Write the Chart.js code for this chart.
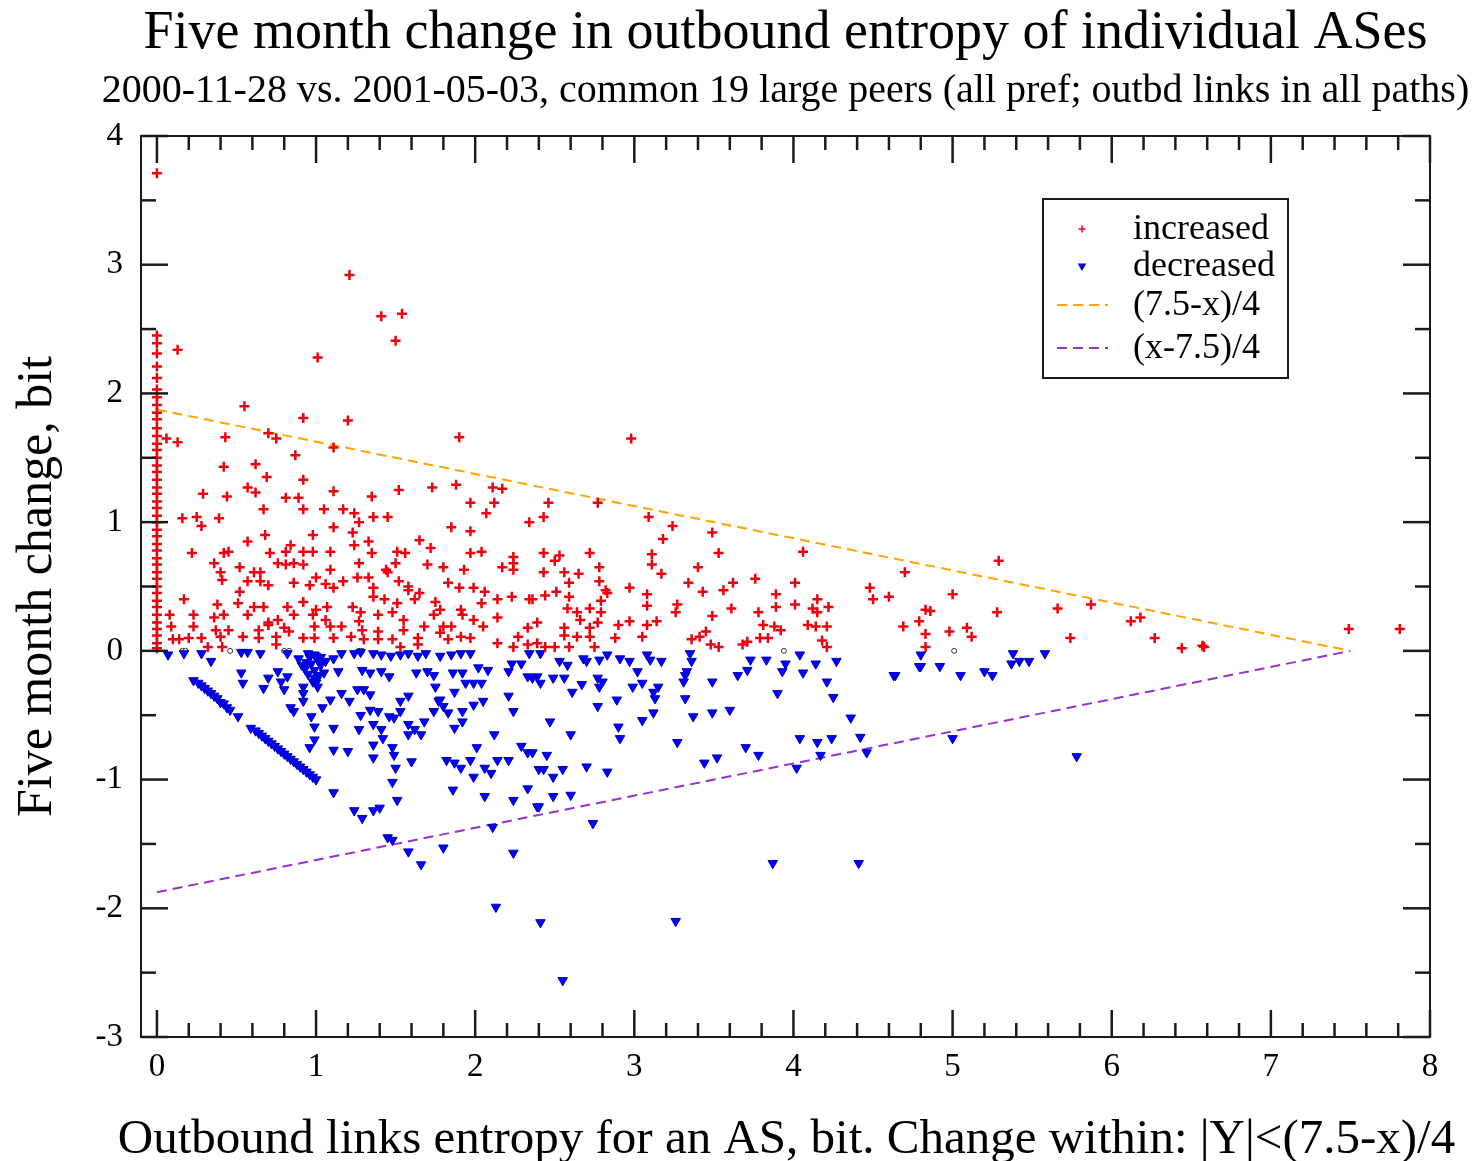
<!DOCTYPE html>
<html>
<head>
<meta charset="utf-8">
<script src="https://cdn.jsdelivr.net/npm/chart.js@4.4.1/dist/chart.umd.min.js"></script>
<style>
  html, body { margin: 0; padding: 0; background: #fff; }
  #wrap { width: 1479px; height: 1161px; }
</style>
</head>
<body>
<div id="wrap"><canvas id="c"></canvas></div>
<script>
const titleText = "Five month change in outbound entropy of individual ASes";
const subtitleText = "2000-11-28 vs. 2001-05-03, common 19 large peers (all pref; outbd links in all paths)";
const xTitle = "Outbound links entropy for an AS, bit. Change within: |Y|<(7.5-x)/4";
const yTitle = "Five month change, bit";

const xTicks = [0, 1, 2, 3, 4, 5, 6, 7, 8];
const yTicks = [-3, -2, -1, 0, 1, 2, 3, 4];

// bounding lines y = (7.5-x)/4 and y = (x-7.5)/4
const boundX = [0, 7.5];
const upperY = [1.875, 0];
const lowerY = [-1.875, 0];

const increased = [
  [0,3.71],[0,2.45],[0,2.39],[0,2.31],[0,2.21],[0,2.12],[0,2.03],[0,1.97],[0,1.91],[0,1.85],[0,1.80],[0,1.73],
  [0,1.67],[0,1.61],[0,1.56],[0,1.50],[0,1.44],[0,1.39],[0,1.33],[0,1.27],[0,1.22],[0,1.16],[0,1.11],[0,1.05],
  [0,1.00],[0,0.94],[0,0.89],[0,0.83],[0,0.78],[0,0.72],[0,0.67],[0,0.61],[0,0.56],[0,0.50],[0,0.45],[0,0.39],
  [0,0.34],[0,0.28],[0,0.22],[0,0.17],[0,0.12],[0,0.06],[0,0.02],
  [0.13,2.34],[1.21,2.92],[1.41,2.60],[1.54,2.62],[1.50,2.41],[1.01,2.28],[2.98,1.65],
  [0.55,1.90],[0.92,1.81],[1.20,1.79],[1.90,1.66],[0.06,1.65],[0.13,1.62],[0.43,1.66],[0.70,1.69],[0.75,1.65],
  [1.11,1.58],[0.87,1.52],[0.42,1.43],[0.62,1.45],[0.69,1.35],[0.92,1.33],[0.29,1.22],[0.44,1.20],[0.57,1.27],
  [0.62,1.23],[0.81,1.19],[0.89,1.19],[0.92,1.10],[1.11,1.24],[1.35,1.20],[1.52,1.25],[1.73,1.27],[1.88,1.29],
  [2.11,1.27],[2.17,1.26],[0.67,1.10],[0.16,1.03],[0.25,1.04],[0.28,0.97],[0.39,1.03],[1.05,1.10],[1.17,1.10],
  [1.24,1.07],[1.36,1.04],[1.45,1.04],[1.27,1.00],[1.11,0.96],[1.23,0.92],[1.85,0.96],[1.97,0.93],[2.34,1.00],
  [2.07,1.07],[1.97,1.15],[2.12,1.15],[0.68,0.90],[0.57,0.85],[0.22,0.76],[0.42,0.76],[0.45,0.77],[0.71,0.76],
  [0.84,0.82],[0.81,0.77],[0.92,0.77],[0.98,0.77],[1.09,0.77],[0.98,0.90],[1.33,0.85],[1.24,0.82],[1.35,0.76],
  [1.51,0.77],[1.56,0.76],[1.65,0.86],[1.72,0.80],[1.97,0.76],[2.04,0.77],[2.24,0.73],[2.24,0.68],[2.24,0.63],
  [0.36,0.68],[0.52,0.65],[0.76,0.68],[0.81,0.67],[0.86,0.68],[0.92,0.67],[1.09,0.63],[1.27,0.68],[1.44,0.63],
  [1.50,0.68],[1.70,0.67],[1.80,0.65],[1.93,0.63],[2.17,0.65],[0.40,0.61],[0.41,0.55],[0.61,0.61],[0.65,0.61],
  [0.57,0.54],[0.65,0.54],[0.70,0.51],[0.86,0.53],[0.96,0.51],[1.00,0.57],[1.06,0.52],[1.11,0.49],[1.17,0.54],
  [1.26,0.57],[1.33,0.57],[1.36,0.49],[1.45,0.61],[1.52,0.54],[1.58,0.50],[1.65,0.45],[1.83,0.53],[1.90,0.49],
  [1.99,0.49],[2.06,0.46],[0.52,0.46],[0.17,0.40],[0.38,0.36],[0.51,0.37],[0.61,0.34],[0.67,0.34],[0.82,0.34],
  [0.92,0.38],[1.00,0.32],[1.07,0.34],[1.23,0.34],[1.28,0.30],[1.36,0.42],[1.43,0.40],[1.51,0.37],[1.58,0.47],
  [1.62,0.40],[1.75,0.38],[1.78,0.32],[1.91,0.32],[2.04,0.37],[2.14,0.40],[2.23,0.42],[2.34,0.40],[0.08,0.28],
  [0.23,0.28],[0.36,0.26],[0.42,0.28],[0.57,0.28],[0.70,0.22],[0.76,0.24],[0.86,0.28],[0.98,0.28],[1.06,0.24],
  [1.16,0.19],[1.27,0.23],[1.39,0.28],[1.48,0.30],[1.55,0.24],[1.68,0.19],[1.74,0.28],[1.80,0.19],[1.92,0.28],
  [1.99,0.24],[2.14,0.26],[0.09,0.19],[0.23,0.19],[0.37,0.16],[0.45,0.16],[0.64,0.16],[0.70,0.20],[0.80,0.18],
  [0.83,0.15],[0.99,0.19],[1.09,0.19],[1.29,0.16],[1.39,0.15],[1.55,0.16],[1.78,0.14],[1.85,0.19],[1.91,0.11],
  [2.05,0.19],[2.33,0.18],[0.10,0.09],[0.14,0.09],[0.20,0.10],[0.28,0.10],[0.40,0.11],[0.54,0.11],[0.64,0.10],
  [0.75,0.11],[0.92,0.10],[0.99,0.10],[1.11,0.10],[1.22,0.11],[1.30,0.09],[1.39,0.09],[1.48,0.09],[1.64,0.10],
  [1.83,0.09],[1.97,0.10],[2.14,0.06],[2.27,0.11],[0.32,0.03],[0.41,0.03],[0.75,0.05],[1.53,0.03],[1.64,0.05],
  [2.24,0.03],[2.33,0.05],[2.39,0.06],
  [2.46,1.15],[2.77,1.15],[2.43,1.04],[3.09,1.04],[3.24,0.97],[3.49,0.92],[3.18,0.87],[3.53,0.76],[4.06,0.77],
  [4.70,0.61],[2.43,0.76],[2.53,0.74],[2.50,0.70],[2.72,0.76],[3.11,0.75],[3.11,0.67],[3.40,0.65],[2.78,0.65],
  [2.43,0.61],[2.56,0.61],[2.65,0.60],[3.17,0.60],[2.59,0.53],[2.78,0.54],[2.82,0.47],[2.83,0.45],[2.97,0.49],
  [3.34,0.53],[3.62,0.53],[3.76,0.56],[4.01,0.53],[4.48,0.49],[4.50,0.40],[4.60,0.42],[2.51,0.46],[2.59,0.42],
  [2.44,0.43],[3.08,0.44],[3.43,0.46],[3.56,0.47],[3.89,0.44],[4.15,0.40],[2.36,0.40],[2.58,0.33],[2.72,0.33],
  [2.79,0.39],[3.08,0.35],[3.27,0.36],[3.61,0.33],[3.89,0.34],[4.01,0.36],[4.12,0.33],[4.22,0.34],[4.83,0.32],
  [2.64,0.30],[2.79,0.30],[3.26,0.30],[3.49,0.27],[3.78,0.30],[4.15,0.30],[2.39,0.22],[2.66,0.24],[2.77,0.22],
  [2.90,0.20],[2.97,0.23],[3.08,0.20],[3.14,0.23],[3.81,0.20],[3.88,0.19],[3.92,0.16],[4.09,0.20],[4.14,0.19],
  [4.21,0.19],[4.69,0.19],[4.79,0.23],[2.56,0.18],[2.72,0.18],[2.56,0.12],[2.64,0.11],[2.72,0.11],[2.88,0.10],
  [3.05,0.11],[3.36,0.09],[3.41,0.11],[3.45,0.15],[3.71,0.07],[3.79,0.10],[3.84,0.10],[4.18,0.08],[4.83,0.13],
  [2.44,0.03],[2.50,0.03],[2.59,0.03],[2.75,0.03],[3.48,0.05],[3.53,0.03],[3.68,0.05],[4.21,0.03],[4.83,0.03],
  [5.29,0.70],[4.86,0.31],[5.00,0.44],[5.28,0.30],[4.98,0.15],[5.09,0.18],[5.12,0.11],[5.66,0.33],[5.87,0.36],
  [5.74,0.10],[6.12,0.23],[6.18,0.26],[6.27,0.10],[6.44,0.02],[6.57,0.04],[6.58,0.03],[7.49,0.17],[7.81,0.17]
];

const decreased = [
  [0.07,-0.03],[0.17,-0.02],[0.28,-0.02],[0.34,-0.08],[0.53,-0.01],[0.57,-0.01],[0.65,-0.02],[0.82,-0.02],
  [0.89,-0.06],[0.95,-0.02],[0.99,-0.03],[1.01,-0.07],[1.11,-0.06],[1.16,-0.02],[1.24,-0.02],[1.28,-0.01],
  [1.36,-0.02],[1.41,-0.03],[1.47,-0.04],[1.53,-0.03],[1.58,-0.02],[1.64,-0.04],[1.69,-0.02],[1.78,-0.04],
  [1.85,-0.03],[1.91,-0.02],[1.97,-0.02],[2.02,-0.13],[2.08,-0.15],[2.23,-0.10],[2.29,-0.10],[2.34,-0.02],
  [0.91,-0.11],[0.94,-0.09],[0.97,-0.10],[0.99,-0.15],[1.03,-0.11],[0.99,-0.21],[1.01,-0.28],[0.95,-0.18],
  [1.05,-0.17],[0.96,-0.05],[1.00,-0.04],[1.03,-0.05],[0.93,-0.14],[1.06,-0.08],[0.98,-0.24],[1.02,-0.19],
  [0.53,-0.17],[0.54,-0.25],[0.67,-0.29],[0.70,-0.21],[0.76,-0.16],[0.78,-0.24],[0.82,-0.20],[0.80,-0.30],
  [0.92,-0.28],[0.92,-0.33],[0.92,-0.39],[1.00,-0.25],[1.09,-0.38],[1.14,-0.16],[1.16,-0.33],[1.21,-0.39],
  [1.26,-0.30],[1.30,-0.30],[1.34,-0.34],[1.29,-0.15],[1.34,-0.17],[1.41,-0.16],[1.46,-0.20],[1.53,-0.39],
  [1.58,-0.35],[1.63,-0.17],[1.70,-0.16],[1.74,-0.19],[1.75,-0.28],[1.78,-0.38],[1.80,-0.43],[1.86,-0.17],
  [1.87,-0.32],[1.92,-0.17],[1.94,-0.25],[1.99,-0.25],[2.05,-0.39],[2.04,-0.25],[2.21,-0.35],[2.24,-0.47],
  [2.21,-0.16],[2.33,-0.20],[2.39,-0.20],
  [0.84,-0.44],[0.86,-0.47],[0.97,-0.51],[0.99,-0.59],[1.04,-0.44],[0.99,-0.69],[0.96,-0.75],[1.11,-0.60],
  [1.11,-0.77],[1.20,-0.78],[1.27,-0.61],[1.28,-0.50],[1.34,-0.46],[1.39,-0.47],[1.36,-0.57],[1.41,-0.61],
  [1.42,-0.68],[1.36,-0.73],[1.46,-0.51],[1.49,-0.52],[1.53,-0.47],[1.58,-0.57],[1.62,-0.61],[1.66,-0.65],
  [1.58,-0.65],[1.48,-0.75],[1.49,-0.81],[1.36,-0.83],[1.50,-0.91],[1.48,-1.02],[1.51,-1.16],[1.60,-0.86],
  [1.24,-1.24],[1.29,-1.30],[1.36,-1.24],[1.40,-1.22],[1.11,-1.10],[1.45,-1.45],[1.48,-1.47],[1.58,-1.56],
  [1.66,-1.66],[1.80,-1.53],[1.82,-0.85],[1.87,-0.87],[1.91,-0.91],[1.97,-0.85],[1.99,-0.98],[2.06,-0.91],
  [2.10,-0.95],[2.01,-0.75],[2.12,-0.65],[2.14,-0.85],[2.21,-0.85],[2.29,-0.74],[2.33,-0.79],[2.40,-0.92],
  [1.86,-1.08],[2.06,-1.13],[2.24,-1.16],[2.33,-1.07],[2.39,-1.21],[2.11,-1.37],[2.24,-1.57],[2.13,-1.99],
  [1.68,-0.55],[1.74,-0.47],[1.77,-0.39],[1.83,-0.48],[1.92,-0.47],[1.92,-0.55],[1.87,-0.60],[1.99,-0.42],
  [0.23,-0.23],[0.26,-0.25],[0.28,-0.27],[0.30,-0.29],[0.32,-0.31],[0.34,-0.33],[0.36,-0.35],[0.38,-0.37],
  [0.40,-0.40],[0.42,-0.41],[0.44,-0.44],[0.46,-0.46],[0.51,-0.51],[0.59,-0.60],[0.62,-0.62],[0.64,-0.64],
  [0.66,-0.66],[0.68,-0.68],[0.70,-0.70],[0.72,-0.72],[0.74,-0.74],[0.76,-0.76],[0.78,-0.78],[0.80,-0.80],
  [0.82,-0.82],[0.84,-0.84],[0.86,-0.86],[0.88,-0.88],[0.90,-0.90],[0.92,-0.92],[0.94,-0.94],[0.96,-0.96],
  [0.98,-0.98],[1.00,-1.00],
  [2.41,-0.02],[2.53,-0.08],[2.58,-0.11],[2.68,-0.06],[2.70,-0.08],[2.78,-0.07],[2.83,-0.03],[2.91,-0.06],
  [2.97,-0.08],[3.08,-0.03],[3.10,-0.07],[3.17,-0.08],[3.02,-0.16],[3.35,-0.02],[3.36,-0.08],[3.33,-0.16],
  [3.31,-0.24],[3.32,-0.37],[3.73,-0.07],[3.83,-0.07],[3.95,-0.10],[3.93,-0.16],[4.04,-0.03],[4.14,-0.10],
  [4.06,-0.17],[4.27,-0.08],[4.21,-0.24],[4.25,-0.36],[3.65,-0.19],[3.71,-0.15],[3.49,-0.24],[3.90,-0.33],
  [4.64,-0.19],[4.80,-0.03],[4.80,-0.12],[2.36,-0.21],[2.41,-0.25],[2.49,-0.21],[2.56,-0.21],[2.61,-0.32],
  [2.67,-0.26],[2.77,-0.21],[2.78,-0.28],[2.80,-0.24],[2.77,-0.43],[2.89,-0.38],[2.99,-0.28],[3.05,-0.25],
  [3.12,-0.32],[3.15,-0.28],[3.13,-0.37],[3.32,-0.19],[3.49,-0.48],[3.37,-0.51],[3.60,-0.46],[3.12,-0.48],
  [3.05,-0.54],[2.47,-0.55],[2.60,-0.65],[2.90,-0.59],[2.91,-0.68],[3.27,-0.71],[3.70,-0.75],[3.78,-0.81],
  [3.44,-0.87],[3.52,-0.83],[2.36,-0.79],[2.45,-0.81],[2.43,-0.92],[2.49,-0.98],[2.55,-0.92],[2.70,-0.90],
  [2.83,-0.94],[2.49,-1.13],[2.60,-1.12],[2.40,-1.21],[2.74,-1.34],[4.04,-0.68],[4.15,-0.71],[4.24,-0.68],
  [4.36,-0.52],[4.42,-0.67],[4.17,-0.81],[4.46,-0.79],[4.02,-0.91],[3.87,-1.65],[4.41,-1.65],[2.41,-2.11],
  [3.26,-2.10],[2.55,-2.56],
  [4.63,-0.19],[4.79,-0.12],[4.92,-0.12],[5.05,-0.19],[5.20,-0.16],[5.25,-0.19],[5.37,-0.10],[5.38,-0.02],
  [5.42,-0.08],[5.48,-0.08],[5.58,-0.02],[5.00,-0.68],[5.78,-0.82]
];

const unchanged = [
  [0.16,0],[0.18,0],[0.46,0],[0.80,0],[0.83,0],[1.27,0],[1.29,0],[3.94,0],[5.01,0]
];

const serif = "'Liberation Serif', 'Times New Roman', serif";
const toXY = a => a.map(p => ({ x: p[0], y: p[1] }));

const frameAndText = {
  id: "frameAndText",
  afterDraw(chart) {
    const { ctx, chartArea: a, scales: { x, y } } = chart;
    ctx.save();
    ctx.strokeStyle = "#1a1a1a";
    ctx.lineWidth = 2;
    ctx.strokeRect(a.left, a.top, a.right - a.left, a.bottom - a.top);
    // inward ticks on all four sides
    const tick = (x0, y0, x1, y1) => { ctx.beginPath(); ctx.moveTo(x0, y0); ctx.lineTo(x1, y1); ctx.stroke(); };
    ctx.lineWidth = 2.5;
    for (let i = 0; i <= 40; i++) {
      const v = i / 5;
      const px = x.getPixelForValue(v);
      const len = i % 5 === 0 ? 27 : 14;
      tick(px, a.bottom, px, a.bottom - len);
      tick(px, a.top, px, a.top + len);
    }
    for (let i = -6; i <= 8; i++) {
      const v = i / 2;
      const py = y.getPixelForValue(v);
      const len = i % 2 === 0 ? 27 : 15;
      tick(a.left, py, a.left + len, py);
      tick(a.right, py, a.right - len, py);
    }
    // titles
    const cx = (a.left + a.right) / 2;
    ctx.fillStyle = "#000";
    ctx.textAlign = "center";
    ctx.textBaseline = "alphabetic";
    ctx.font = "54px " + serif;
    ctx.fillText(titleText, cx, 48);
    ctx.font = "40px " + serif;
    ctx.fillText(subtitleText, cx, 102);
    ctx.font = "49px " + serif;
    ctx.fillText(xTitle, cx + 1, 1153);
    // legend
    const lx = 1043, ly = 199, lw = 245, lh = 179;
    ctx.fillStyle = "#fff";
    ctx.fillRect(lx, ly, lw, lh);
    ctx.strokeStyle = "#1a1a1a";
    ctx.lineWidth = 2;
    ctx.strokeRect(lx, ly, lw, lh);
    const rows = [229, 266, 305, 348];
    chart.data.datasets.filter(d => d.inLegend).forEach((d, i) => {
      const ry = rows[i];
      ctx.save();
      if (d.showLine) {
        ctx.strokeStyle = d.borderColor;
        ctx.lineWidth = d.borderWidth;
        ctx.setLineDash(d.borderDash);
        ctx.beginPath(); ctx.moveTo(1057, ry); ctx.lineTo(1108, ry); ctx.stroke();
      } else {
        ctx.fillStyle = d.backgroundColor; ctx.strokeStyle = d.borderColor; ctx.lineWidth = 1.5;
        Chart.helpers.drawPoint(ctx, {
          pointStyle: d.pointStyle, radius: 3.5, rotation: d.rotation || 0, borderWidth: 1.5
        }, 1082, ry);
      }
      ctx.restore();
      ctx.fillStyle = "#000";
      ctx.textAlign = "left";
      ctx.textBaseline = "middle";
      ctx.font = "36px " + serif;
      ctx.fillText(d.label, 1133, ry + 1);
    });
    ctx.restore();
  }
};

new Chart(document.getElementById("c"), {
  type: "scatter",
  data: {
    datasets: [
      { label: "increased", inLegend: true, data: toXY(increased), pointStyle: "cross", pointRadius: 5,
        borderColor: "#f0000c", backgroundColor: "#f0000c", borderWidth: 2.5, pointHoverRadius: 5 },
      { label: "decreased", inLegend: true, data: toXY(decreased), pointStyle: "triangle", rotation: 180,
        pointRotation: 180, pointRadius: 5.5, borderColor: "#0000c0", backgroundColor: "#0000ff", borderWidth: 1 },
      { label: "(7.5-x)/4", inLegend: true, data: boundX.map((v, i) => ({ x: v, y: upperY[i] })), showLine: true,
        pointRadius: 0, borderColor: "#ffa500", borderWidth: 2, borderDash: [10, 6] },
      { label: "(x-7.5)/4", inLegend: true, data: boundX.map((v, i) => ({ x: v, y: lowerY[i] })), showLine: true,
        pointRadius: 0, borderColor: "#9a30d0", borderWidth: 2, borderDash: [10, 6] },
      { label: "unchanged", data: toXY(unchanged), pointStyle: "circle", pointRadius: 2.5,
        borderColor: "#333", backgroundColor: "#fff", borderWidth: 1 }
    ]
  },
  options: {
    responsive: true,
    maintainAspectRatio: false,
    animation: false,
    layout: { padding: { top: 136, right: 49, left: 0, bottom: 0 } },
    plugins: { legend: { display: false }, tooltip: { enabled: false } },
    scales: {
      x: {
        type: "linear", min: -0.1, max: 8,
        grid: { display: false }, border: { display: false },
        afterBuildTicks: s => { s.ticks = xTicks.map(v => ({ value: v })); },
        afterFit: s => { s.height = 124; },
        ticks: { font: { family: serif, size: 33 }, color: "#000", padding: 3, maxRotation: 0 },
        title: { display: false, text: xTitle }
      },
      y: {
        type: "linear", min: -3, max: 4,
        grid: { display: false }, border: { display: false },
        afterBuildTicks: s => { s.ticks = yTicks.map(v => ({ value: v })); },
        afterFit: s => { s.width = 141; },
        ticks: { font: { family: serif, size: 33 }, color: "#000", padding: 10 },
        title: { display: true, text: yTitle, font: { family: serif, size: 50, lineHeight: 1 }, color: "#000",
          padding: { top: 13, bottom: 0 } }
      }
    }
  },
  plugins: [frameAndText]
});
</script>
</body>
</html>
